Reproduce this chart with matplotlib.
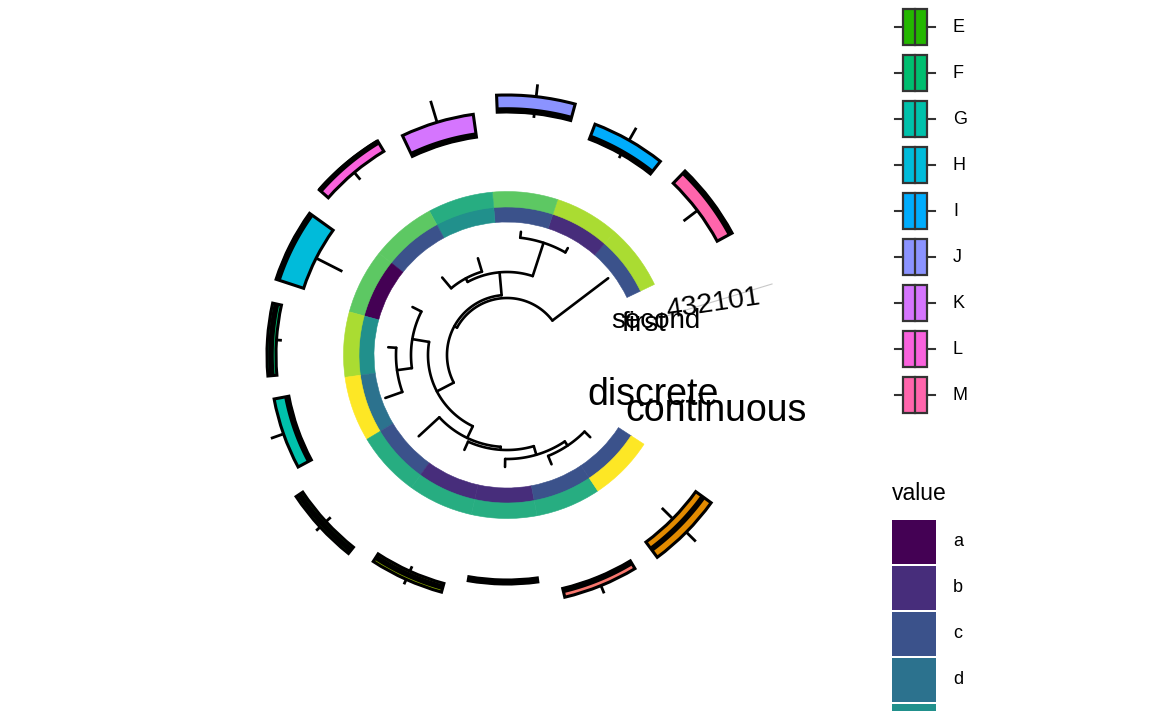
import numpy as np
import matplotlib
matplotlib.use("Agg")
import matplotlib.pyplot as plt
from matplotlib.patches import Rectangle

plt.rcParams["font.family"] = ["Liberation Sans", "DejaVu Sans"]

# --- data -------------------------------------------------------------------
# tips listed counter-clockwise, starting next to the open gap on the right
tip_names = ["t1", "t2", "t3", "t4", "t5", "t6", "t7", "t8", "t9", "t10", "t11", "t12", "t13"]
tip_depth = [127, 123, 124, 101, 101, 106, 119, 129, 120, 104, 112, 118, 117]
tip_group = ["M", "I", "J", "K", "L", "H", "F", "G", "E", "D", "C", "A", "B"]

node_names = ["R", "N1", "NU", "N23", "N45", "P", "Q", "Qp", "S", "W", "T", "V"]
node_children = [("t1", "N1"), ("NU", "P"), ("N23", "N45"), ("t2", "t3"), ("t4", "t5"),
                 ("Q", "S"), ("t6", "Qp"), ("t7", "t8"), ("t9", "W"), ("t10", "T"),
                 ("t11", "V"), ("t12", "t13")]
node_depth = [57, 60, 83, 118, 87, 79, 96, 111, 92, 95, 104, 109]

heat_discrete = ["c", "b", "c", "e", "c", "a", "e", "d", "c", "b", "b", "c", "c"]
heat_continuous = ["h", "h", "g", "f", "g", "g", "h", "i", "f", "f", "f", "f", "i"]
value_levels = ["a", "b", "c", "d", "e", "f", "g", "h", "i"]
value_colors = ["#440154", "#472D7B", "#3B528B", "#2C728E", "#21908C",
                "#27AD81", "#5DC863", "#AADC32", "#FDE725"]

groups = ["A", "B", "C", "D", "E", "F", "G", "H", "I", "J", "K", "L", "M"]
group_colors = ["#F8766D", "#E18A00", "#BE9C00", "#8CAB00", "#24B700", "#00BE70", "#00C1AB",
                "#00BBDA", "#00ACFC", "#8B93FF", "#D575FE", "#F962DD", "#FF65AC"]

# box stats per tip on the outer ring (radial units)
box_lo = [223, 228, 240, 220, 230, 186, 227, 222, 241, 233, 225, 240, 219]
box_q1 = [239, 231, 243, 220, 238, 214, 231, 222, 246, 237, 225, 240, 233]
box_med = [254, 233, 245, 222, 249, 241, 236, 224, 250, 241, 227, 242, 242]
box_q3 = [256, 247, 260, 243, 250, 243, 240, 237, 254, 246, 229, 249, 252]
box_hi = [256, 260, 271, 264, 250, 243, 240, 249, 258, 250, 229, 256, 264]

# --- layout -----------------------------------------------------------------
W, H = 1152, 711
CX, CY, RMAX = 507, 355, 300
START_DEG, STEP_DEG = 25.6, 23.18


def theta(y):
    return np.deg2rad(START_DEG + STEP_DEG * (np.asarray(y, dtype=float) - 0.5))


fig = plt.figure(figsize=(W / 100, H / 100), dpi=100)
ax = fig.add_axes([(CX - RMAX) / W, (H - CY - RMAX) / H, 2 * RMAX / W, 2 * RMAX / H],
                  projection="polar")
ax.set_ylim(0, RMAX)
ax.axis("off")

# tree coordinates (ggtree style: node y = mean of children)
depth = dict(zip(tip_names, tip_depth))
depth.update(zip(node_names, node_depth))
children = dict(zip(node_names, node_children))
ypos = {name: i + 1 for i, name in enumerate(tip_names)}


def get_y(name):
    if name not in ypos:
        ypos[name] = np.mean([get_y(c) for c in children[name]])
    return ypos[name]


for n in node_names:
    get_y(n)

tree_kw = dict(color="black", lw=1.9, solid_capstyle="round", zorder=3)
for n in node_names:
    ys = [ypos[c] for c in children[n]]
    arc = np.linspace(theta(min(ys)), theta(max(ys)), 80)
    ax.plot(arc, np.full_like(arc, depth[n]), **tree_kw)
    for c in children[n]:
        t = theta(ypos[c])
        ax.plot([t, t], [depth[n], depth[c]], **tree_kw)

# heatmap rings
tip_theta = theta(np.arange(1, 14))
lvl = dict(zip(value_levels, value_colors))
width = np.deg2rad(STEP_DEG)
for vals, bottom in [(heat_discrete, 133), (heat_continuous, 148)]:
    cols = [lvl[v] for v in vals]
    ax.bar(tip_theta, 15.5, width=width, bottom=bottom, color=cols,
           edgecolor=cols, linewidth=0.4, zorder=2)

# boxplots on the outer ring
gcol = dict(zip(groups, group_colors))
box_w = np.deg2rad(17.5)
for i, t in enumerate(tip_theta):
    ax.plot([t, t], [box_q3[i], box_hi[i]], color="black", lw=2, zorder=4)
    ax.plot([t, t], [box_q1[i], box_lo[i]], color="black", lw=2, zorder=4)
    ax.bar(t, box_q3[i] - box_q1[i], width=box_w, bottom=box_q1[i],
           color=gcol[tip_group[i]], edgecolor="black", linewidth=2.2, zorder=5)
    arc = np.linspace(t - box_w / 2, t + box_w / 2, 40)
    ax.plot(arc, np.full_like(arc, box_med[i]), color="black", lw=4, zorder=6,
            solid_capstyle="butt")

# --- overlay: annotations and legends (pixel coordinates) --------------------
lax = fig.add_axes([0, 0, 1, 1], zorder=10)
lax.set_xlim(0, W)
lax.set_ylim(H, 0)
lax.axis("off")

lax.text(587, 405, "discrete", fontsize=27, va="baseline", ha="left")
lax.text(625, 421, "continuous", fontsize=27, va="baseline", ha="left")
lax.plot([653, 772], [320, 284], color="#c8c8c8", lw=0.8)
lax.text(611, 328, "second", fontsize=20, va="baseline", ha="left")
lax.text(622, 331, "first", fontsize=20, va="baseline", ha="left")
lax.text(667, 318, "432101", fontsize=20.5, va="baseline", ha="left", rotation=8.5,
         rotation_mode="anchor")

# group legend (A-D sit above the canvas and are not visible)
for k, (g, c) in enumerate(zip(groups, group_colors)):
    yc = 27 + 46 * (k - 4)
    if yc < 0:
        continue
    lax.plot([895, 903], [yc, yc], color="#333333", lw=1.5)
    lax.plot([927, 935], [yc, yc], color="#333333", lw=1.5)
    lax.add_patch(Rectangle((903, yc - 18), 24, 36, facecolor=c, edgecolor="#333333", lw=1.6))
    lax.plot([915, 915], [yc - 18, yc + 18], color="#333333", lw=1.6)
    lax.text(953, yc, g, fontsize=13, va="center", ha="left")

# value legend (levels past "d" run off the bottom)
lax.text(892, 500, "value", fontsize=16.5, va="baseline", ha="left")
for k, (v, c) in enumerate(zip(value_levels, value_colors)):
    top = 520 + 46 * k
    if top > H:
        continue
    lax.add_patch(Rectangle((892, top), 44, 44, facecolor=c, edgecolor="none"))
    if top + 22 < H:
        lax.text(953, top + 22, v, fontsize=13, va="center", ha="left")

fig.savefig("out.png", dpi=100)
